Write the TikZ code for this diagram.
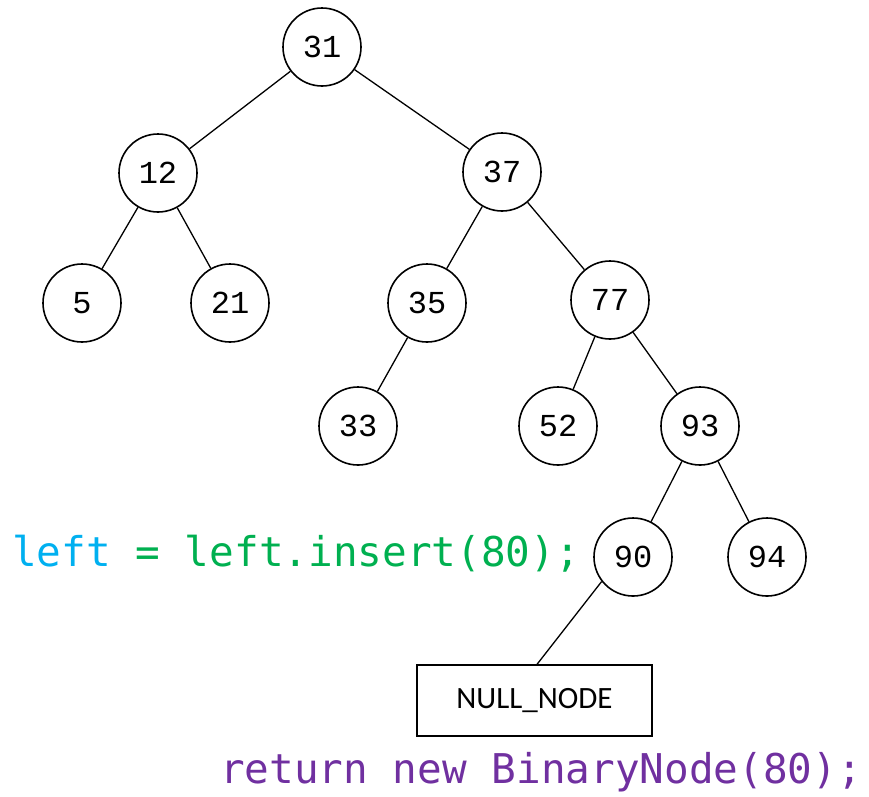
\documentclass[tikz,border=0pt]{standalone}
\usepackage{fontspec}
\newfontfamily\codefont{DejaVu Sans Mono}
\newfontfamily\keyfont{Liberation Mono}
\newfontfamily\boxfont{Carlito}
\definecolor{varcyan}{RGB}{0,176,240}
\definecolor{callgreen}{RGB}{0,176,80}
\definecolor{retpurple}{RGB}{112,48,160}
\tikzset{
  treenode/.style={circle, draw=black, line width=1.6pt, fill=white,
    minimum size=78pt, inner sep=0pt,
    font=\keyfont\fontsize{32}{32}\selectfont},
  branch/.style={draw=black, line width=1.3pt},
  nullbox/.style={draw=black, line width=1.3pt, fill=white,
    minimum width=235pt, minimum height=71pt, inner sep=0pt,
    font=\boxfont\fontsize{31}{31}\selectfont},
  codeline/.style={inner sep=0pt, font=\codefont\fontsize{41}{41}\selectfont}
}
\begin{document}
\begin{tikzpicture}[x=1pt,y=-1pt]
\useasboundingbox (0,0) rectangle (869,796);

% keys of the search tree
\node[treenode] (n31) at (322,47) {31};
\node[treenode] (n12) at (158,173) {12};
\node[treenode] (n37) at (502,172) {37};
\node[treenode] (n5)  at (82,303) {5};
\node[treenode] (n21) at (230,303) {21};
\node[treenode] (n35) at (427,303) {35};
\node[treenode] (n77) at (610,300) {77};
\node[treenode] (n33) at (358,426) {33};
\node[treenode] (n52) at (558,426) {52};
\node[treenode] (n93) at (700,426) {93};
\node[treenode] (n90) at (633,557) {90};
\node[treenode] (n94) at (767,557) {94};

% empty left child of 90
\node[nullbox] (null) at (534.5,700.5) {NULL\_NODE};

% parent-child links
\path[branch] (n31) -- (n12);
\path[branch] (n31) -- (n37);
\path[branch] (n12) -- (n5);
\path[branch] (n12) -- (n21);
\path[branch] (n37) -- (n35);
\path[branch] (n37) -- (n77);
\path[branch] (n35) -- (n33);
\path[branch] (n77) -- (n52);
\path[branch] (n77) -- (n93);
\path[branch] (n93) -- (n90);
\path[branch] (n93) -- (n94);
\path[branch] (n90.218) -- ([xshift=2.5pt]null.north);

% code fragments
\node[codeline, anchor=base west] (callcode) at (12,566)
  {\textcolor{varcyan}{left} \textcolor{callgreen}{= left.insert(80);}};
\node[codeline, anchor=base west, text=retpurple] (retcode) at (220,783)
  {return new BinaryNode(80);};
\end{tikzpicture}
\end{document}
